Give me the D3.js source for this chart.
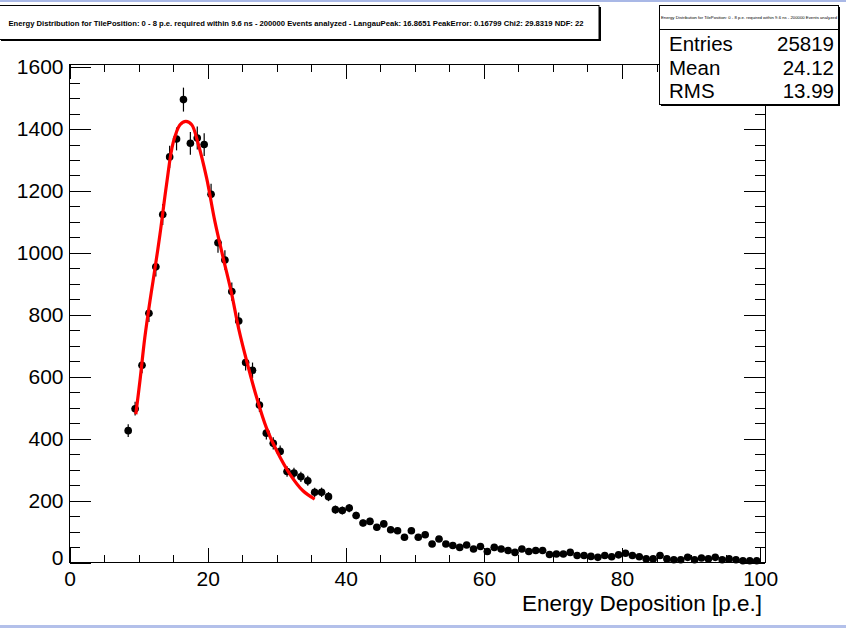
<!DOCTYPE html>
<html>
<head>
<meta charset="utf-8">
<script src="https://cdn.jsdelivr.net/npm/d3@7"></script>
<style>
  html, body { margin: 0; padding: 0; background: #fff; }
  svg { display: block; font-family: "Liberation Sans", Arial, Helvetica, sans-serif; }
</style>
</head>
<body>
<svg id="chart" width="846" height="628"></svg>
<script>
// ---------------- data ----------------
const binCenters = [8.5, 9.5, 10.5, 11.5, 12.5, 13.5, 14.5, 15.5, 16.5, 17.5, 18.5, 19.5,
  20.5, 21.5, 22.5, 23.5, 24.5, 25.5, 26.5, 27.5, 28.5, 29.5, 30.5, 31.5, 32.5, 33.5, 34.5,
  35.5, 36.5, 37.5, 38.5, 39.5, 40.5, 41.5, 42.5, 43.5, 44.5, 45.5, 46.5, 47.5, 48.5, 49.5,
  50.5, 51.5, 52.5, 53.5, 54.5, 55.5, 56.5, 57.5, 58.5, 59.5, 60.5, 61.5, 62.5, 63.5, 64.5,
  65.5, 66.5, 67.5, 68.5, 69.5, 70.5, 71.5, 72.5, 73.5, 74.5, 75.5, 76.5, 77.5, 78.5, 79.5,
  80.5, 81.5, 82.5, 83.5, 84.5, 85.5, 86.5, 87.5, 88.5, 89.5, 90.5, 91.5, 92.5, 93.5, 94.5,
  95.5, 96.5, 97.5, 98.5, 99.5];
const binCounts = [426, 497, 637, 805, 955, 1124, 1310, 1368, 1495, 1354, 1371, 1350,
  1189, 1033, 977, 875, 780, 646, 621, 509, 418, 385, 359, 294, 289, 277, 264,
  227, 227, 213, 171, 168, 176, 152, 128, 133, 114, 125, 106, 103, 82, 103,
  82, 90, 60, 76, 60, 55, 49, 57, 44, 52, 36, 49, 44, 39, 33,
  44, 36, 39, 39, 26, 28, 28, 33, 23, 23, 20, 17, 23, 19, 25,
  30, 23, 19, 12, 12, 23, 12, 9, 9, 17, 9, 15, 12, 17, 9,
  12, 9, 6, 6, 6];
const binWidth = 1;

// Langau fit curve
const fitX = [9.6, 10.2, 10.9, 11.65, 12.1, 13.1, 14.05, 15.0, 16.0, 16.85, 17.7, 18.6,
  19.85, 21.05, 22.25, 23.45, 24.5, 25.9, 27.1, 28.5, 30.0, 31.9, 33.8, 35.5];
const fitY = [479, 587, 726, 845, 909, 1060, 1221, 1355, 1414, 1425, 1414, 1355,
  1242, 1102, 984, 871, 755, 630, 533, 436, 361, 286, 232, 205];

const xMajorTicks = [0, 20, 40, 60, 80, 100];
const xMinorTicks = [5, 10, 15, 25, 30, 35, 45, 50, 55, 65, 70, 75, 85, 90, 95];
const yMajorTicks = [0, 200, 400, 600, 800, 1000, 1200, 1400, 1600];
const yMinorTicks = [50, 100, 150, 250, 300, 350, 450, 500, 550, 650, 700, 750, 850, 900, 950,
  1050, 1100, 1150, 1250, 1300, 1350, 1450, 1500, 1550];

const titleText = "Energy Distribution for TilePosition: 0 - 8 p.e. required within 9.6 ns - 200000 Events analyzed -  LangauPeak: 16.8651 PeakError: 0.16799 Chi2: 29.8319 NDF: 22";
const statsTitle = "Energy Distribution for TilePosition: 0 - 8 p.e. required within 9.6 ns - 200000 Events analyzed";
const statsLabels = ["Entries", "Mean", "RMS"];
const statsValues = ["25819", "24.12", "13.99"];
const xTitle = "Energy Deposition [p.e.]";

// ---------------- drawing ----------------
const svg = d3.select("#chart");
const W = 846, H = 628;

const x = d3.scaleLinear().domain([0, 100.7]).range([69.5, 765]);
const y = d3.scaleLinear().domain([0, 1609]).range([562.6, 64.3]);

// canvas border bands
svg.append("rect").attr("x", 0).attr("y", 0).attr("width", W).attr("height", 2).attr("fill", "#a9b8e6");
svg.append("rect").attr("x", 0).attr("y", 625).attr("width", W).attr("height", 3).attr("fill", "#b3c0ea");

const x0 = x.range()[0], x1 = x.range()[1], yT = y.range()[1], yB = y.range()[0];

// axes (ticks pointing inward, ROOT style)
function styleAxis(g) {
  g.select(".domain").remove();
  g.selectAll(".tick line").attr("stroke", "#000").attr("shape-rendering", "crispEdges");
}
const labFont = 21;
svg.append("g").attr("transform", `translate(0,${yB})`)
  .call(d3.axisBottom(x).tickValues(xMajorTicks).tickSize(-15).tickPadding(8).tickFormat(d3.format("d")))
  .call(styleAxis)
  .call(g => g.selectAll("text").attr("font-size", labFont).attr("fill", "#000")
    .attr("font-family", "Liberation Sans, Arial, sans-serif"));
svg.append("g").attr("transform", `translate(0,${yB})`)
  .call(d3.axisBottom(x).tickValues(xMinorTicks).tickSize(-7.5).tickFormat(""))
  .call(styleAxis);
svg.append("g").attr("transform", `translate(0,${yT})`)
  .call(d3.axisTop(x).tickValues(xMajorTicks).tickSize(-15).tickFormat(""))
  .call(styleAxis);
svg.append("g").attr("transform", `translate(0,${yT})`)
  .call(d3.axisTop(x).tickValues(xMinorTicks).tickSize(-7.5).tickFormat(""))
  .call(styleAxis);

svg.append("g").attr("transform", `translate(${x0},0)`)
  .call(d3.axisLeft(y).tickValues(yMajorTicks).tickSize(-21).tickPadding(6).tickFormat(d3.format("d")))
  .call(styleAxis)
  .call(g => g.selectAll("text").attr("font-size", labFont).attr("fill", "#000")
    .attr("font-family", "Liberation Sans, Arial, sans-serif"))
  .call(g => g.selectAll(".tick").filter(d => d === 0).select("text").attr("dy", "0.08em"));
svg.append("g").attr("transform", `translate(${x0},0)`)
  .call(d3.axisLeft(y).tickValues(yMinorTicks).tickSize(-10.5).tickFormat(""))
  .call(styleAxis);
svg.append("g").attr("transform", `translate(${x1},0)`)
  .call(d3.axisRight(y).tickValues(yMajorTicks).tickSize(-21).tickFormat(""))
  .call(styleAxis);
svg.append("g").attr("transform", `translate(${x1},0)`)
  .call(d3.axisRight(y).tickValues(yMinorTicks).tickSize(-10.5).tickFormat(""))
  .call(styleAxis);

// frame
svg.append("rect").attr("x", x0).attr("y", yT).attr("width", x1 - x0).attr("height", yB - yT)
  .attr("fill", "none").attr("stroke", "#000").attr("stroke-width", 1).attr("shape-rendering", "crispEdges");

// x axis title
svg.append("text").attr("x", 762).attr("y", 611).attr("text-anchor", "end")
  .attr("font-size", 21.5).attr("textLength", 240).attr("lengthAdjust", "spacingAndGlyphs")
  .text(xTitle);

// histogram points with error bars
const pts = binCenters.map((c, i) => ({ c, n: binCounts[i] }));
const eg = svg.append("g");
eg.selectAll("line.ey").data(pts).join("line").attr("class", "ey")
  .attr("x1", d => x(d.c)).attr("x2", d => x(d.c))
  .attr("y1", d => y(d.n + Math.sqrt(d.n))).attr("y2", d => y(Math.max(0, d.n - Math.sqrt(d.n))))
  .attr("stroke", "#000").attr("stroke-width", 1.2);
eg.selectAll("line.ex").data(pts).join("line").attr("class", "ex")
  .attr("x1", d => x(d.c - binWidth / 2)).attr("x2", d => x(d.c + binWidth / 2))
  .attr("y1", d => y(d.n)).attr("y2", d => y(d.n))
  .attr("stroke", "#000").attr("stroke-width", 1.2);
eg.selectAll("circle").data(pts).join("circle")
  .attr("cx", d => x(d.c)).attr("cy", d => y(d.n)).attr("r", 3.8).attr("fill", "#000");

// fit curve
const fitPts = fitX.map((v, i) => [v, fitY[i]]);
svg.append("path").datum(fitPts)
  .attr("d", d3.line().x(d => x(d[0])).y(d => y(d[1])).curve(d3.curveCatmullRom.alpha(0.5)))
  .attr("fill", "none").attr("stroke", "#ff0000").attr("stroke-width", 3.2).attr("stroke-linejoin", "round");

// title box
svg.append("rect").attr("x", 1).attr("y", 7).attr("width", 600).attr("height", 34).attr("fill", "#000");
svg.append("rect").attr("x", -1).attr("y", 5.5).attr("width", 600).attr("height", 34)
  .attr("fill", "#fff").attr("stroke", "#000").attr("stroke-width", 1);
svg.append("text").attr("x", 296).attr("y", 25.5).attr("text-anchor", "middle")
  .attr("font-size", 7).attr("font-weight", "bold").attr("textLength", 575).attr("lengthAdjust", "spacingAndGlyphs")
  .text(titleText);

// stats box
svg.append("rect").attr("x", 661).attr("y", 7).attr("width", 179).attr("height", 99).attr("fill", "#000");
svg.append("rect").attr("x", 659.5).attr("y", 5.5).attr("width", 179).attr("height", 99)
  .attr("fill", "#fff").attr("stroke", "#000").attr("stroke-width", 1);
svg.append("line").attr("x1", 659.5).attr("x2", 838.5).attr("y1", 29.5).attr("y2", 29.5)
  .attr("stroke", "#000").attr("stroke-width", 1);
svg.append("text").attr("x", 749).attr("y", 18.5).attr("text-anchor", "middle")
  .attr("font-size", 4).attr("textLength", 176).attr("lengthAdjust", "spacingAndGlyphs")
  .text(statsTitle);
const rowY = [51, 74.5, 97.5];
statsLabels.forEach((l, i) => {
  svg.append("text").attr("x", 669).attr("y", rowY[i]).attr("font-size", 20.5).text(l);
  svg.append("text").attr("x", 834).attr("y", rowY[i]).attr("text-anchor", "end").attr("font-size", 20.5).text(statsValues[i]);
});
</script>
</body>
</html>
